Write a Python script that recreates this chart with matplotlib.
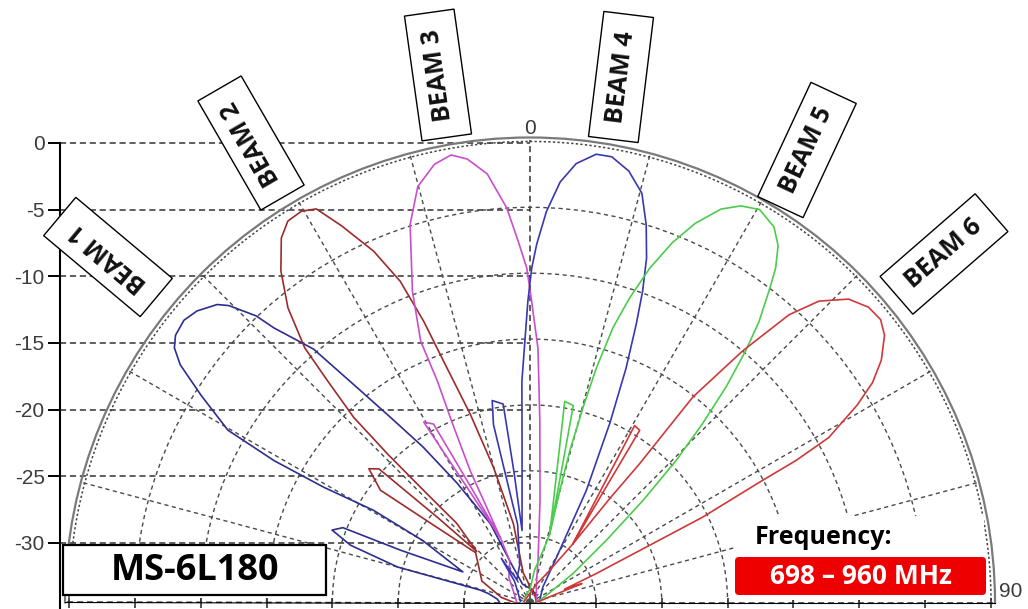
import numpy as np
import matplotlib
matplotlib.use("Agg")
import matplotlib.pyplot as plt
from matplotlib.patches import Rectangle, FancyBboxPatch

# ---------------- data ----------------
db_levels = [0, -5, -10, -15, -20, -25, -30]
db_labels = ["0", "-5", "-10", "-15", "-20", "-25", "-30"]
ring_levels = [-30, -25, -20, -15, -10, -5]
spoke_angles = [-75, -60, -45, -30, -15, 15, 30, 45, 60, 75]
r_min, r_max = -35, 0.3

beam1_theta = [-90, -84, -78, -76, -75, -72.3, -69.9, -68.2, -68, -65.5, -60, -59.5, -60.8, -61, -60.3,
               -57.8, -55.8, -54.4, -53, -50.8, -48.8, -46.4, -45.4, -43.7, -43, -40.5, -38.8, -37,
               -34.5, -31.4, -26.7, -25.6, -22, -10, 10, 40, 90]
beam1_db = [-32.7, -32.5, -31.8, -31.1, -24.6, -20.7, -19.0, -19.7, -24.4, -29.4, -25.6, -21.2, -17.1, -12.8,
            -8.6, -5.5, -2.9, -1.8, -1.3, -1.1, -1.4, -2.2, -2.9, -4.9, -6.5, -9.7, -14.1, -17.4,
            -20.7, -24.4, -28.3, -32.0, -33.5, -33.8, -34.0, -34.3, -34.5]

beam2_theta = [-90, -80, -66, -47.5, -51.6, -53.1, -50.3, -48.5, -47.4, -46.2, -42.8, -43.5, -43.8, -43.6,
               -42.4, -41.5, -39.4, -36.9, -34.3, -32.4, -30.3, -28.5, -26.6, -24.0, -22.0, -20.7, -19.5,
               -17.6, -15.1, -11.9, -12.9, -5, 0, 30, 90]
beam2_db = [-33.8, -32.8, -31, -29.4, -25, -20.8, -19.1, -19.7, -25.4, -29.4, -26.8, -23.3, -19.4, -15.6,
            -12.2, -9.2, -6.05, -3.5, -1.5, -0.7, -0.6, -1.0, -3.0, -5.8, -8.7, -12.2, -16.1,
            -20.0, -24.4, -28.9, -32.7, -33.5, -34, -34.3, -34.5]

beam3_theta = [-90, -60, -40, -26, -24.6, -29, -30.5, -28.4, -27.3, -24.6, -24.4, -23.4, -22.7, -22.7, -20.7,
               -17.6, -15.1, -12.3, -10.0, -8.05, -5.7, -3.37, -1.85, -0.56, 0.3, 1.8, 3.1, 5.6, 10.7, 20, 90]
beam3_db = [-34, -33.6, -32.5, -31.5, -29.6, -24.3, -19.1, -19.6, -24.6, -29.6, -24.0, -20.1, -16.8, -13.5, -9.75,
            -4.9, -2.3, -0.95, -0.5, -1.0, -2.3, -5.0, -7.6, -9.6, -12.1, -15.7, -21.2, -27.2, -31.7, -33.6, -34.5]

beam4_theta = [-90, -50, -36, -33, -30, -15, -9, -11, -11.6, -10.6, -7.7, -7, -6.3, -3, -2.1, -0.4, 0.3, 1.07,
               2.4, 4.1, 6.0, 8.4, 10.4, 12.9, 15.3, 17.1, 18.7, 19.9, 20.9, 22.3, 24.0, 26.7, 30.4, 40, 90]
beam4_db = [-34.3, -33.8, -33, -31, -33, -32, -29, -24.5, -21.2, -19.4, -19.8, -25, -29.5, -23.5, -18.2, -12.1,
            -9.6, -7.8, -5.3, -3.0, -1.5, -0.6, -0.6, -1.4, -2.8, -5.0, -7.4, -9.9, -12.4, -15.8, -20.1,
            -25.5, -31, -33.5, -34.3]

beam5_theta = [-90, -20, 0, 8, 14, 16.1, 11.4, 9.8, 12.4, 13.4, 16.1, 14.9, 14.7, 15.2, 15.8, 16.8, 18.1, 19.7,
               21.6, 23.55, 25.9, 28.0, 30.3, 33.0, 34.8, 36.3, 37.5, 39.2, 40.6, 42.3, 44.0, 45.8, 47.9,
               50.8, 56.0, 65, 90]
beam5_db = [-34.5, -34.3, -34, -32.5, -31, -29.6, -24.5, -19.5, -19.7, -24.6, -29.6, -26.2, -23.1, -19.7, -16.5,
            -13.2, -10.7, -8.05, -5.6, -3.6, -1.8, -0.9, -0.45, -1.0, -2.0, -3.5, -5.2, -7.5, -9.85, -12.9,
            -16.2, -19.5, -23.4, -27.5, -31.05, -33.5, -34.5]

beam6_theta = [-90, 0, 20, 30, 36.2, 32, 30.6, 32.5, 33.4, 36.2, 37.5, 38.3, 38.4, 40.2, 42.0, 43.8, 46.4, 48.9,
               51.1, 53.0, 55.4, 57.3, 58.9, 61.1, 61.9, 62.3, 63.7, 64.5, 66.4, 69, 70, 74, 90]
beam6_db = [-34.5, -34.3, -33.5, -32.5, -29.5, -24.4, -19.4, -19.5, -24.5, -29.5, -25, -21.6, -15.1, -10.0,
            -5.6, -3.3, -1.6, -0.9, -0.8, -1.3, -2.6, -4.1, -6.0, -9.1, -12.1, -15.1, -20.4, -25.2,
            -29.5, -32.2, -30.8, -33.5, -34.5]

beam_names = ["BEAM 1", "BEAM 2", "BEAM 3", "BEAM 4", "BEAM 5", "BEAM 6"]
beam_colors = ["#2e2e90", "#9c2c2c", "#c84fcc", "#3838b0", "#4ccc4c", "#d03838"]
beam_thetas = [beam1_theta, beam2_theta, beam3_theta, beam4_theta, beam5_theta, beam6_theta]
beam_dbs = [beam1_db, beam2_db, beam3_db, beam4_db, beam5_db, beam6_db]

model_name = "MS-6L180"
freq_title = "Frequency:"
freq_range = "698 \u2013 960 MHz"

# ---------------- layout ----------------
W, H = 1028, 609
fig = plt.figure(figsize=(W / 100, H / 100), dpi=100)

grid_dark = "#333333"
label_gray = "#3c3c3c"

# Cartesian dB overlay (left scale, horizontal guides)
axc = fig.add_axes([0, 0, 1, 1], zorder=0)
axc.set_xlim(0, W)
axc.set_ylim(-(H - 143) * 0.075, 143 * 0.075)
axc.patch.set_visible(False)
for s in ["top", "right", "bottom"]:
    axc.spines[s].set_visible(False)
axc.spines["left"].set_position(("data", 60))
axc.spines["left"].set_bounds(-(H - 143) * 0.075, 0)
axc.spines["left"].set_linewidth(1.5)
axc.set_xticks([])
axc.set_yticks(db_levels)
axc.set_yticklabels(db_labels, fontfamily="Liberation Sans", fontsize=15, color=label_gray)
axc.tick_params(axis="y", direction="out", length=9, width=1.4, pad=2, color="black")
axc.hlines(db_levels, 60, 530, colors=grid_dark, linestyles=(0, (4, 2.5)), linewidth=1.1)
axc.vlines(530, -(H - 143) * 0.075, 0.2, colors=grid_dark, linestyles=(0, (4, 2.5)), linewidth=1.1)

# Polar axes: half disc, centre at (530, 602.5) px, radius 465 px
R = 465
S = 2 * R
cx, cy_b = 530, H - 602.5
axp = fig.add_axes([(cx - R) / W, (cy_b - 0.25 * S) / H, S / W, S / H],
                   projection="polar", zorder=1)
axp.set_theta_zero_location("N")
axp.set_theta_direction(-1)
axp.set_thetamin(-90)
axp.set_thetamax(90)
axp.set_rlim(r_min, r_max)
axp.set_facecolor("none")
axp.set_rgrids(ring_levels, labels=[""] * len(ring_levels))
axp.set_thetagrids(spoke_angles, labels=[""] * len(spoke_angles))
axp.tick_params(length=0)
axp.grid(True, color="#4a4a4a", linestyle=(0, (3, 2.5)), linewidth=1.0)
axp.spines["polar"].set_color("#7a7a7a")
axp.spines["polar"].set_linewidth(1.6)
for s in ["start", "end", "inner"]:
    axp.spines[s].set_visible(False)

th = np.linspace(-np.pi / 2, np.pi / 2, 500)
axp.plot(th, np.zeros_like(th), color="#444444", linestyle=(0, (1.5, 1.5)), linewidth=1.1, zorder=2)
for side in (-np.pi / 2, np.pi / 2):
    axp.plot([side, side], [r_min, r_max], color=grid_dark, linestyle=(0, (4, 2.5)),
             linewidth=1.1, clip_on=False, zorder=2)
    axp.plot(np.full(len(db_levels), side), db_levels, linestyle="none", marker="|",
             markersize=7, markeredgewidth=1.2, color=grid_dark, clip_on=False, zorder=2)

for tt, dd, col in zip(beam_thetas, beam_dbs, beam_colors):
    axp.plot(np.deg2rad(tt), dd, color=col, linewidth=1.2, zorder=3)

axp.text(0, 0.95, "0", ha="center", va="center", fontsize=15,
         fontfamily="Liberation Sans", color=label_gray)
axp.text(np.deg2rad(88.7), 1.5, "90", ha="center", va="center", fontsize=15,
         fontfamily="Liberation Sans", color=label_gray)

# Annotation layer in pixel coordinates (y up)
axl = fig.add_axes([0, 0, 1, 1], zorder=2)
axl.set_xlim(0, W)
axl.set_ylim(0, H)
axl.axis("off")

label_cx = [108, 251, 438, 621, 807, 944]
label_cy = [H - 257, H - 143, H - 75, H - 77, H - 150, H - 254]
label_rot = [140, 120, 98, 83, 65, 41]
bw, bh = 126, 50
for name, x0, y0, rot in zip(beam_names, label_cx, label_cy, label_rot):
    axl.add_patch(Rectangle((x0 - bw / 2, y0 - bh / 2), bw, bh, angle=rot, rotation_point="center",
                            facecolor="white", edgecolor="black", linewidth=1.0))
    axl.text(x0, y0, name, rotation=rot, rotation_mode="anchor", ha="center", va="center",
             fontsize=18, fontweight="bold", fontfamily="Open Sans", color="#111111")

# model box
axl.add_patch(Rectangle((63, H - 595), 263, 50, facecolor="white", edgecolor="black", linewidth=1.6))
axl.text(194.5, H - 571, model_name, ha="center", va="center", fontsize=26,
         fontweight="bold", fontfamily="Open Sans", color="black")

# frequency block
axl.add_patch(Rectangle((736, H - 600), 248, 84, facecolor="white", edgecolor="none"))
axl.text(823.5, H - 538, freq_title, ha="center", va="center", fontsize=18,
         fontweight="bold", fontfamily="Open Sans", color="black")
axl.add_patch(FancyBboxPatch((735, H - 595), 251, 38, boxstyle="round,pad=0,rounding_size=4",
                             facecolor="#ee0000", edgecolor="none"))
axl.text(860.5, H - 577, freq_range, ha="center", va="center", fontsize=19,
         fontweight="bold", fontfamily="Open Sans", color="white")

fig.savefig("out.png", dpi=100)
